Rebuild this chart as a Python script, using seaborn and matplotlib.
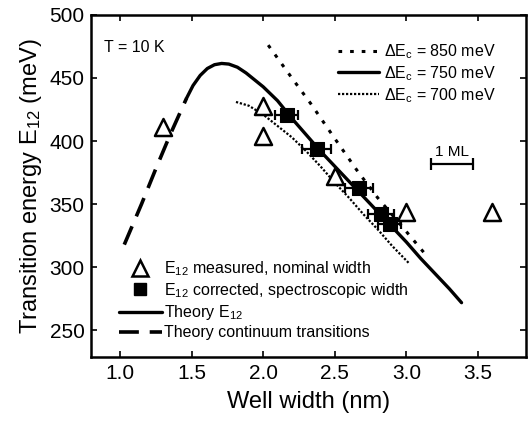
import matplotlib
matplotlib.use("Agg")
import matplotlib.pyplot as plt
from matplotlib.lines import Line2D
import numpy as np
import seaborn as sns

# measured E12 vs nominal width (open triangles)
meas_w = [1.30, 2.00, 2.00, 2.50, 3.00, 3.60]
meas_e = [411, 428, 404, 372, 344, 344]

# corrected E12 vs spectroscopic width (filled squares)
corr_w = [2.165, 2.373, 2.67, 2.82, 2.885]
corr_e = [421, 394, 363, 342, 334]
corr_werr = [0.08, 0.10, 0.10, 0.09, 0.08]

# theory, dEc = 750 meV (solid)
th750_w = [1.465, 1.51, 1.56, 1.61, 1.66, 1.71, 1.76, 1.82, 1.88, 1.94, 2.00,
           2.10, 2.20, 2.30, 2.40, 2.50, 2.60, 2.70, 2.80, 2.90, 3.00, 3.10,
           3.20, 3.30, 3.385]
th750_e = [434, 444, 452, 457.5, 460.5, 461.5, 461, 458.5, 454, 448.5, 443,
           432, 418, 405, 392, 380, 368, 356, 344, 332, 320, 307,
           295, 283, 272]

# theory continuum transitions (dashed)
cont_w = [1.03, 1.15, 1.25, 1.35, 1.465]
cont_e = [318, 350, 378, 405, 434]

# theory, dEc = 850 meV (dotted)
th850_w = [2.035, 2.20, 2.33, 2.50, 2.66, 2.80, 2.95, 3.12]
th850_e = [476, 450, 430, 402, 376, 355, 335, 312]

# theory, dEc = 700 meV (fine dotted)
th700_w = [1.81, 1.90, 2.00, 2.10, 2.20, 2.30, 2.40, 2.50, 2.60, 2.70, 2.80, 2.90, 3.02]
th700_e = [431, 428, 421, 412, 403, 392, 380, 367, 355, 342, 330, 317, 303]

# 1 ML scale bar
ml_w = [3.17, 3.467]
ml_e = [382, 382]

xticks = [1.0, 1.5, 2.0, 2.5, 3.0, 3.5]
yticks = [250, 300, 350, 400, 450, 500]

sns.set_style("ticks")
plt.rcParams['font.family'] = ['Liberation Sans', 'DejaVu Sans']
plt.rcParams['mathtext.default'] = 'regular'
for k in ['axes.edgecolor', 'text.color', 'axes.labelcolor', 'xtick.color', 'ytick.color']:
    plt.rcParams[k] = 'black'

fig = plt.figure(figsize=(5.28, 4.24), dpi=100)
ax = fig.add_axes([0.173, 0.159, 0.824, 0.806])

sns.lineplot(x=cont_w, y=cont_e, ax=ax, color='black', lw=2.6, sort=False,
             estimator=None, linestyle=(0, (5.5, 3)))
sns.lineplot(x=th750_w, y=th750_e, ax=ax, color='black', lw=2.4, sort=False, estimator=None)
sns.lineplot(x=th850_w, y=th850_e, ax=ax, color='black', lw=2.2, sort=False,
             estimator=None, linestyle=(0, (1.2, 2.6)))
sns.lineplot(x=th700_w, y=th700_e, ax=ax, color='black', lw=1.6, sort=False,
             estimator=None, linestyle=(0, (1, 0.8)))

ax.errorbar(corr_w, corr_e, xerr=corr_werr, fmt='none', ecolor='black',
            elinewidth=1.6, capsize=3.5, capthick=1.6, zorder=3)
sns.scatterplot(x=corr_w, y=corr_e, ax=ax, marker='s', s=95, color='black',
                edgecolor='black', zorder=4)
sns.scatterplot(x=meas_w, y=meas_e, ax=ax, marker='^', s=150, facecolor='white',
                edgecolor='black', linewidth=1.8, zorder=5)

ax.plot(ml_w, ml_e, color='black', lw=1.6, marker='|', markersize=9, markeredgewidth=1.6)
ax.text(np.mean(ml_w), 391, '1 ML', ha='center', va='center', fontsize=11)

ax.text(0.03, 0.905, 'T = 10 K', transform=ax.transAxes, fontsize=11.5, va='center')

ax.set_xlim(0.8, 3.838)
ax.set_ylim(229.3, 500)
ax.set_xticks(xticks)
ax.set_xticklabels([f'{t:.1f}' for t in xticks])
ax.set_yticks(yticks)
ax.tick_params(direction='in', length=4, width=1.2, top=True, right=True,
               labelsize=15, pad=5)
for s in ax.spines.values():
    s.set_linewidth(1.8)
ax.set_xlabel('Well width (nm)', fontsize=17, labelpad=6)
ax.set_ylabel('Transition energy E$_{12}$ (meV)', fontsize=17, labelpad=4)

top_handles = [
    Line2D([], [], color='black', lw=2.2, linestyle=(0, (1.2, 2.6))),
    Line2D([], [], color='black', lw=2.4),
    Line2D([], [], color='black', lw=1.6, linestyle=(0, (1, 0.8))),
]
top_labels = ['ΔE$_c$ = 850 meV', 'ΔE$_c$ = 750 meV', 'ΔE$_c$ = 700 meV']
leg1 = ax.legend(top_handles, top_labels, loc='upper left', bbox_to_anchor=(0.566, 0.92),
                 frameon=False, fontsize=11.5, handlelength=2.6, handletextpad=0.3,
                 labelspacing=0.2, borderpad=0, borderaxespad=0)
ax.add_artist(leg1)

bot_handles = [
    Line2D([], [], marker='^', linestyle='none', markersize=11, markerfacecolor='white',
           markeredgecolor='black', markeredgewidth=1.8),
    Line2D([], [], marker='s', linestyle='none', markersize=9, color='black'),
    Line2D([], [], color='black', lw=2.4),
    Line2D([], [], color='black', lw=2.6, linestyle=(0, (5.5, 3))),
]
bot_labels = ['E$_{12}$ measured, nominal width', 'E$_{12}$ corrected, spectroscopic width',
              'Theory E$_{12}$', 'Theory continuum transitions']
ax.legend(bot_handles, bot_labels, loc='upper left', bbox_to_anchor=(0.063, 0.285),
          frameon=False, fontsize=11.5, handlelength=2.7, handletextpad=0.15,
          labelspacing=0.2, borderpad=0, borderaxespad=0)

fig.savefig('out.png', dpi=100)
